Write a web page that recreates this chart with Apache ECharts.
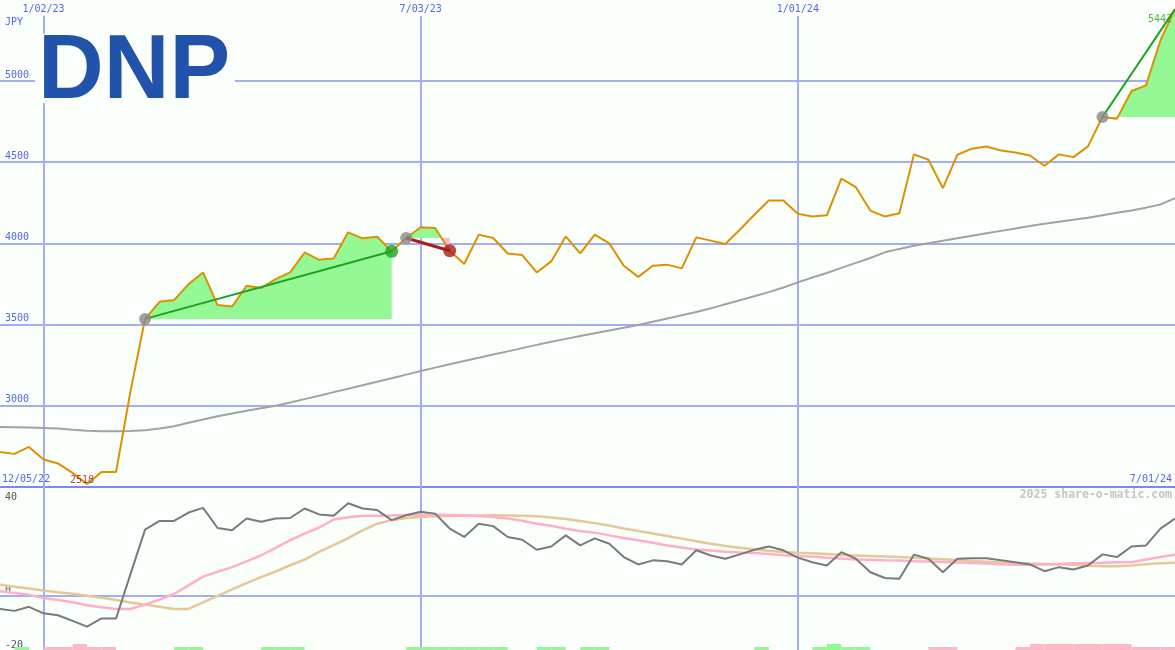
<!DOCTYPE html>
<html><head><meta charset="utf-8">
<script src="https://cdn.jsdelivr.net/npm/echarts@6/dist/echarts.min.js"></script>
<style>html,body{margin:0;padding:0;background:#fbfffb}#c{width:1175px;height:650px}</style>
</head><body><div id="c"></div><script>
// ---- data (weekly, starting 2022-12-12) ----
const DAY = 86400000;
const firstWeek = '2022-12-12';
const price = [2716,2704,2747,2669,2645,2587,2518,2593,2593,3091,
  3535,3640,3651,3749,3821,3620,3611,3739,3725,3780,
  3821,3944,3899,3907,4068,4031,4041,3951,4033,4099,
  4095,3955,3873,4054,4033,3938,3928,3821,3889,4043,
  3938,4054,4000,3862,3794,3862,3869,3846,4037,4017,
  3996,4084,4176,4264,4264,4183,4165,4173,4398,4346,
  4202,4165,4185,4548,4515,4340,4546,4583,4597,4572,
  4560,4541,4478,4548,4531,4597,4778,4768,4938,4973,
  5251,5442];
const movingAvg = [2870,2868,2866,2864,2860,2852,2846,2844,2844,2845,
  2850,2860,2874,2895,2916,2935,2953,2970,2985,3000,
  3020,3041,3062,3084,3105,3127,3148,3170,3192,3214,
  3235,3256,3276,3296,3316,3335,3355,3375,3394,3412,
  3430,3446,3463,3480,3498,3518,3538,3558,3578,3600,
  3625,3650,3675,3700,3728,3760,3790,3818,3849,3880,
  3910,3945,3966,3985,4001,4016,4032,4047,4062,4077,
  4092,4107,4121,4133,4145,4158,4173,4188,4203,4220,
  4240,4278];
const oscillator = [-4.9,-5.6,-4.1,-6.5,-7.2,-9.3,-11.4,-8.4,-8.4,8,
  24.3,27.5,27.5,30.6,32.3,24.9,24.1,28.4,27.2,28.4,
  28.6,32.1,29.9,29.4,34,32.1,31.5,27.8,29.6,30.9,
  30.2,24.7,21.6,26.5,25.6,21.6,20.6,16.9,18.1,22.2,
  18.5,21.1,19.1,14.2,11.5,13,12.7,11.5,16.7,14.8,
  13.6,15.2,16.9,18.1,16.7,14,12.3,11.1,16,13.6,
  8.6,6.5,6.2,15.1,13.6,8.6,13.6,13.8,13.8,13,
  12.3,11.5,9,10.5,9.6,11.1,15.2,14.2,18.1,18.5,
  24.7,28.4];
const oscFast = [1.6,1.0,0.3,-0.9,-1.6,-2.4,-3.5,-4.3,-4.9,-4.9,
  -3.3,-1.4,0.6,3.8,7,8.8,10.5,12.6,14.8,17.6,
  20.4,22.8,25.1,28,28.9,29.4,29.4,29.5,29.7,29.9,
  29.8,29.7,29.6,29.3,29,28.4,27.6,26.5,25.7,24.6,
  23.8,23.2,22.2,21.2,20.4,19.5,18.5,17.7,17,16.6,
  16.2,15.9,15.7,15.3,14.9,14.6,14.4,14,13.7,13.3,
  13.2,13,12.9,12.7,12.6,12.4,12.2,12,11.8,11.6,
  11.4,11.4,11.5,11.7,11.9,12,12.1,12.3,12.3,13.3,
  14.2,15.1];
const oscSlow = [4,3.3,2.6,1.9,1.3,0.7,0,-0.8,-1.6,-2.5,
  -3.3,-4.1,-4.9,-4.9,-2.5,-0.1,2.3,4.6,6.8,8.9,
  11.2,13.3,16.1,18.6,21.2,24,26.5,27.8,28.6,29,
  29.2,29.3,29.4,29.5,29.6,29.5,29.4,29.2,28.8,28.2,
  27.5,26.7,25.8,24.7,23.8,22.9,22,21,20,19.1,
  18.3,17.6,17,16.5,16.1,15.8,15.6,15.3,15,14.8,
  14.6,14.4,14.2,14,13.7,13.4,13.1,12.8,12.5,12.2,
  12,11.8,11.7,11.6,11.4,11.1,10.8,10.8,11.1,11.6,
  11.9,12.1];
const histogram = [0,1,0,-1,-1,-2,-1,-1,0,0,
  0,0,1,1,0,0,0,0,1,1,
  1,0,0,0,0,0,0,0,1,1,
  1,1,1,1,1,0,0,1,1,0,
  1,1,0,0,0,0,0,0,0,0,
  0,0,1,0,0,0,1,2,1,1,
  0,0,0,0,-1,-1,0,0,0,0,
  -1,-2,-2,-2,-2,-2,-2,-2,-1,-1,
  -1,-1];
const signalStart = [10, 28, 76];
const signalEnd = [27, 31, 81];
const signalOutcome = ['win', 'loss', 'open'];
const dateLines = ['2023-01-02', '2023-07-03', '2024-01-01'];
const oscTickLabels = [40, 0, -20];
const cornerDates = ['12/05/22', '7/01/24'];
const ticker = 'DNP';
const currency = 'JPY';
const credit = '2025 share-o-matic.com';

// ---- helpers ----
const iso = s => { const [y,m,d] = s.split('-').map(Number); return Date.UTC(y, m-1, d); };
const t0 = iso(firstWeek);
const dates = price.map((_, i) => t0 + i * 7 * DAY);
const pair = arr => arr.map((v, i) => [dates[i], v]);
const fmtDate = t => { const d = new Date(t); return (d.getUTCMonth()+1) + '/' + String(d.getUTCDate()).padStart(2,'0') + '/' + String(d.getUTCFullYear()%100).padStart(2,'0'); };
const iMin = price.indexOf(Math.min(...price));
const iMax = price.indexOf(Math.max(...price));

const BG = '#fbfffb';
const GRID = '#a3aef2';
const AXIS_TXT = '#5566ee';
const MONO = '"DejaVu Sans Mono", monospace';
const GREEN_FILL = '#94f894';
const PINK_FILL = '#ffb8c8';
const GREEN = '#22a022';
const RED = '#a81e1e';

function renderFill(params, api) {
  const k = params.dataIndex;
  const s = signalStart[k], e = signalEnd[k];
  const yb = api.coord([dates[s], price[s]])[1];
  const pts = [];
  for (let i = s; i <= e; i++) {
    const p = api.coord([dates[i], price[i]]);
    if (pts.length) {
      const q = pts[pts.length - 1];
      if ((q[1] - yb) * (p[1] - yb) < 0) {
        const t = (yb - q[1]) / (p[1] - q[1]);
        pts.push([q[0] + t * (p[0] - q[0]), yb]);
      }
    }
    pts.push(p);
  }
  const x0 = pts[0][0], x1 = pts[pts.length - 1][0];
  const up = pts.map(p => [p[0], Math.min(p[1], yb)]).concat([[x1, yb], [x0, yb]]);
  const dn = pts.map(p => [p[0], Math.max(p[1], yb)]).concat([[x1, yb], [x0, yb]]);
  return { type: 'group', children: [
    { type: 'polygon', shape: { points: up }, style: { fill: GREEN_FILL } },
    { type: 'polygon', shape: { points: dn }, style: { fill: PINK_FILL } }
  ]};
}
function renderHist(params, api) {
  const t = api.value(0), v = api.value(1);
  if (!v) return null;
  const a = api.coord([t, 0]);
  const b = api.coord([t + 7 * DAY, Math.abs(v)]);
  return { type: 'rect', shape: { x: a[0], y: b[1], width: b[0] - a[0], height: a[1] - b[1] },
    style: { fill: v > 0 ? GREEN_FILL : PINK_FILL } };
}

const signalLines = signalStart.map((s, k) => ({
  type: 'line', xAxisIndex: 0, yAxisIndex: 0, z: 6, clip: false, silent: true,
  symbol: 'none',
  lineStyle: { color: signalOutcome[k] === 'loss' ? RED : GREEN, width: signalOutcome[k] === 'loss' ? 3 : 2 },
  data: [[dates[s], price[s]], [dates[signalEnd[k]], price[signalEnd[k]]]]
}));

const chart = echarts.init(document.getElementById('c'), null, { renderer: 'canvas' });
chart.setOption({
  backgroundColor: BG,
  animation: false,
  grid: [
    { left: 0, right: 0, top: 16, height: 471 },
    { left: 0, right: 0, top: 487, height: 163 }
  ],
  xAxis: [
    { type: 'time', gridIndex: 0, min: dates[0], max: dates[dates.length - 1],
      axisLine: { show: true, lineStyle: { color: '#7b88ec', width: 2 } },
      axisTick: { show: false }, axisLabel: { show: false }, splitLine: { show: false } },
    { type: 'time', gridIndex: 1, min: dates[0], max: dates[dates.length - 1],
      axisLine: { show: false }, axisTick: { show: false }, axisLabel: { show: false }, splitLine: { show: false } }
  ],
  yAxis: [
    { type: 'value', gridIndex: 0, min: 2500, max: 5400, interval: 500,
      name: currency, nameLocation: 'end', nameGap: -6,
      nameTextStyle: { align: 'left', verticalAlign: 'middle', padding: [0, 0, 0, 5], color: AXIS_TXT, fontFamily: MONO, fontSize: 10 },
      axisLine: { show: false }, axisTick: { show: false },
      axisLabel: { inside: true, margin: 5, verticalAlign: 'bottom', padding: [0, 0, 1, 0], color: AXIS_TXT, fontFamily: MONO, fontSize: 10, showMinLabel: false, showMaxLabel: false,
        formatter: v => String(v) },
      splitLine: { show: true, showMaxLine: false, lineStyle: { color: GRID, width: 2 } } },
    { type: 'value', gridIndex: 1, min: -20, max: 40, interval: 20, position: 'left',
      axisLine: { show: false }, axisTick: { show: false }, splitLine: { show: false },
      axisLabel: { inside: true, margin: 5, verticalAlign: 'bottom', color: '#555', fontFamily: MONO, fontSize: 10,
        formatter: v => (oscTickLabels.includes(v) && v !== 40) ? String(v) : '' } },
    { type: 'value', gridIndex: 1, min: -20, max: 40, interval: 20, position: 'left', offset: 0,
      axisLine: { show: false }, axisTick: { show: false }, splitLine: { show: false },
      axisLabel: { inside: true, margin: 5, verticalAlign: 'top', padding: [5, 0, 0, 0], color: '#555', fontFamily: MONO, fontSize: 10,
        formatter: v => v === 40 ? '40' : '' } },
    { type: 'value', gridIndex: 1, min: 0, max: 54, show: false }
  ],
  series: [
    { type: 'custom', name: 'fill', xAxisIndex: 0, yAxisIndex: 0, z: 2, silent: true,
      renderItem: renderFill, data: signalStart.map(s => [dates[s], price[s]]) },
    { type: 'line', name: 'avg', xAxisIndex: 0, yAxisIndex: 0, z: 3, silent: true, symbol: 'none',
      lineStyle: { color: '#a2a2a2', width: 2 }, data: pair(movingAvg),
      markLine: { silent: true, symbol: 'none', z: 1,
        lineStyle: { color: GRID, width: 2, type: 'solid' },
        label: { show: true, position: 'end', distance: 2, color: AXIS_TXT, fontFamily: MONO, fontSize: 10,
          formatter: p => fmtDate(p.value) },
        data: dateLines.map(d => ({ xAxis: iso(d) })) } },
    { type: 'line', name: 'price', xAxisIndex: 0, yAxisIndex: 0, z: 5, silent: true, symbol: 'none', clip: false,
      lineStyle: { color: '#dc9100', width: 2 }, data: pair(price) },
    ...signalLines,
    { type: 'scatter', name: 'signal start', xAxisIndex: 0, yAxisIndex: 0, z: 7, silent: true, clip: false,
      symbolSize: 12, itemStyle: { color: '#888888' },
      data: signalStart.map(s => [dates[s], price[s]]) },
    { type: 'scatter', name: 'signal end', xAxisIndex: 0, yAxisIndex: 0, z: 7, silent: true, clip: false,
      symbolSize: 13,
      data: signalEnd.map((e, k) => ({ value: [dates[e], price[e]],
        itemStyle: { color: signalOutcome[k] === 'loss' ? RED : GREEN } }))
        .filter((_, k) => signalOutcome[k] !== 'open') },
    { type: 'scatter', name: 'extremes', xAxisIndex: 0, yAxisIndex: 0, z: 8, silent: true, clip: false,
      symbolSize: 1, itemStyle: { color: 'rgba(0,0,0,0)' },
      label: { show: true, position: 'inside', fontFamily: MONO, fontSize: 10, formatter: p => String(p.value[1]) },
      data: [
        { value: [dates[iMin], price[iMin]], label: { color: '#a01c1c', offset: [-5, -4] } },
        { value: [dates[iMax], price[iMax]], label: { color: GREEN, offset: [-15, 10] } }
      ] },
    { type: 'custom', name: 'hist', xAxisIndex: 1, yAxisIndex: 3, z: 2, silent: true,
      renderItem: renderHist, data: pair(histogram) },
    { type: 'line', name: 'slow', xAxisIndex: 1, yAxisIndex: 1, z: 3, silent: true, symbol: 'none',
      lineStyle: { color: '#e4c898', width: 2.5 }, data: pair(oscSlow),
      markLine: { silent: true, symbol: 'none', z: 1, label: { show: false },
        lineStyle: { color: GRID, width: 2, type: 'solid' },
        data: dateLines.map(d => ({ xAxis: iso(d) })).concat([{ yAxis: 0 }]) } },
    { type: 'line', name: 'fast', xAxisIndex: 1, yAxisIndex: 1, z: 4, silent: true, symbol: 'none',
      lineStyle: { color: '#ffb0c8', width: 2.5 }, data: pair(oscFast) },
    { type: 'line', name: 'osc', xAxisIndex: 1, yAxisIndex: 1, z: 5, silent: true, symbol: 'none',
      lineStyle: { color: '#7a7a7a', width: 2 }, data: pair(oscillator) }
  ],
  graphic: [
    { type: 'rect', left: 35, top: 34, z: 100, shape: { width: 200, height: 69 }, style: { fill: BG } },
    { type: 'text', left: 38, top: 27, z: 101,
      style: { text: ticker, font: 'bold 91px "Liberation Sans", Arial, sans-serif', fill: '#2253ab' } },
    { type: 'text', left: 2, top: 474, z: 50,
      style: { text: cornerDates[0], font: '10px ' + MONO, fill: AXIS_TXT } },
    { type: 'text', right: 3, top: 474, z: 50,
      style: { text: cornerDates[1], font: '10px ' + MONO, fill: AXIS_TXT, align: 'right' } },
    { type: 'text', right: 3, top: 489, z: 50,
      style: { text: credit, font: 'bold 11.5px ' + MONO, fill: '#c4c4c4', align: 'right' } }
  ]
});
</script></body></html>
